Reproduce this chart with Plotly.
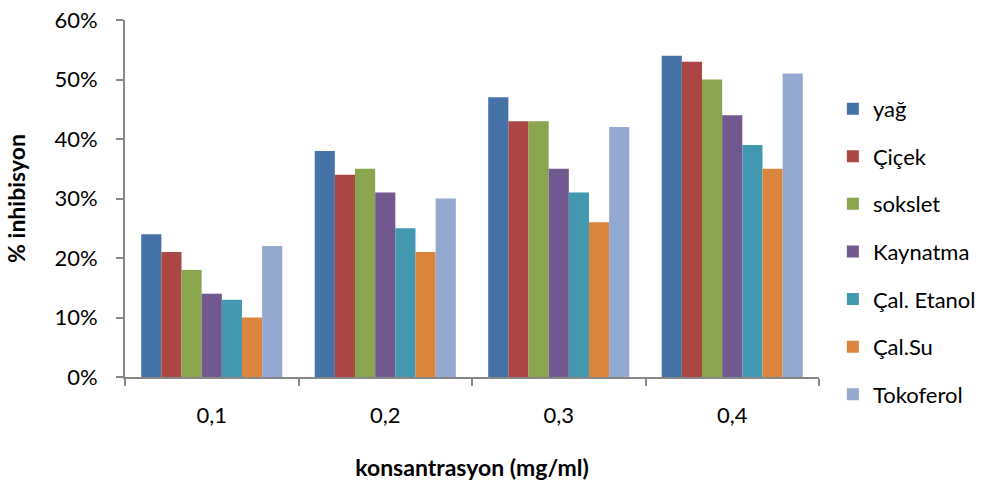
import plotly.graph_objects as go

categories = ["0,1", "0,2", "0,3", "0,4"]
yag = [0.24, 0.38, 0.47, 0.54]
cicek = [0.21, 0.34, 0.43, 0.53]
sokslet = [0.18, 0.35, 0.43, 0.50]
kaynatma = [0.14, 0.31, 0.35, 0.44]
cal_etanol = [0.13, 0.25, 0.31, 0.39]
cal_su = [0.10, 0.21, 0.26, 0.35]
tokoferol = [0.22, 0.30, 0.42, 0.51]

series = [
    ("yağ", yag, "#4572A7"),
    ("Çiçek", cicek, "#AA4643"),
    ("sokslet", sokslet, "#89A54E"),
    ("Kaynatma", kaynatma, "#71588F"),
    ("Çal. Etanol", cal_etanol, "#4198AF"),
    ("Çal.Su", cal_su, "#DB843D"),
    ("Tokoferol", tokoferol, "#93A9CF"),
]

FONT = "Lato, 'Open Sans', sans-serif"
AXIS = "#868686"

fig = go.Figure()
for i, (name, vals, color) in enumerate(series):
    fig.add_trace(go.Bar(
        x=categories, y=vals, name=name,
        marker=dict(color=color, line=dict(width=0)),
        legendgroup=f"g{i}",
    ))

fig.update_layout(
    width=989, height=488,
    margin=dict(l=125, r=170, t=20, b=111, autoexpand=False),
    paper_bgcolor="white", plot_bgcolor="white",
    barmode="group", bargap=0.187, bargroupgap=0,
    font=dict(family=FONT, size=22, color="#000000"),
    legend=dict(
        x=1.02, y=0.81, xanchor="left", yanchor="top",
        font=dict(size=22), tracegroupgap=16,
        itemwidth=30,
    ),
    xaxis=dict(
        showline=True, linecolor=AXIS, linewidth=2,
        ticks="outside", tickson="boundaries", ticklen=7, tickcolor=AXIS, tickwidth=2,
        tickfont=dict(size=22), ticklabelstandoff=18,
        title=dict(text="<b>konsantrasyon (mg/ml)</b>", font=dict(size=23), standoff=32),
    ),
    yaxis=dict(
        range=[0, 0.6], dtick=0.1, tickformat=".0%",
        showline=True, linecolor=AXIS, linewidth=2,
        ticks="outside", ticklen=7, tickcolor=AXIS, tickwidth=2,
        showgrid=False, zeroline=False,
        tickfont=dict(size=22), ticklabelstandoff=14,
        title=dict(text="<b>% inhibisyon</b>", font=dict(size=23), standoff=22),
    ),
)

fig.write_html("out.html")
